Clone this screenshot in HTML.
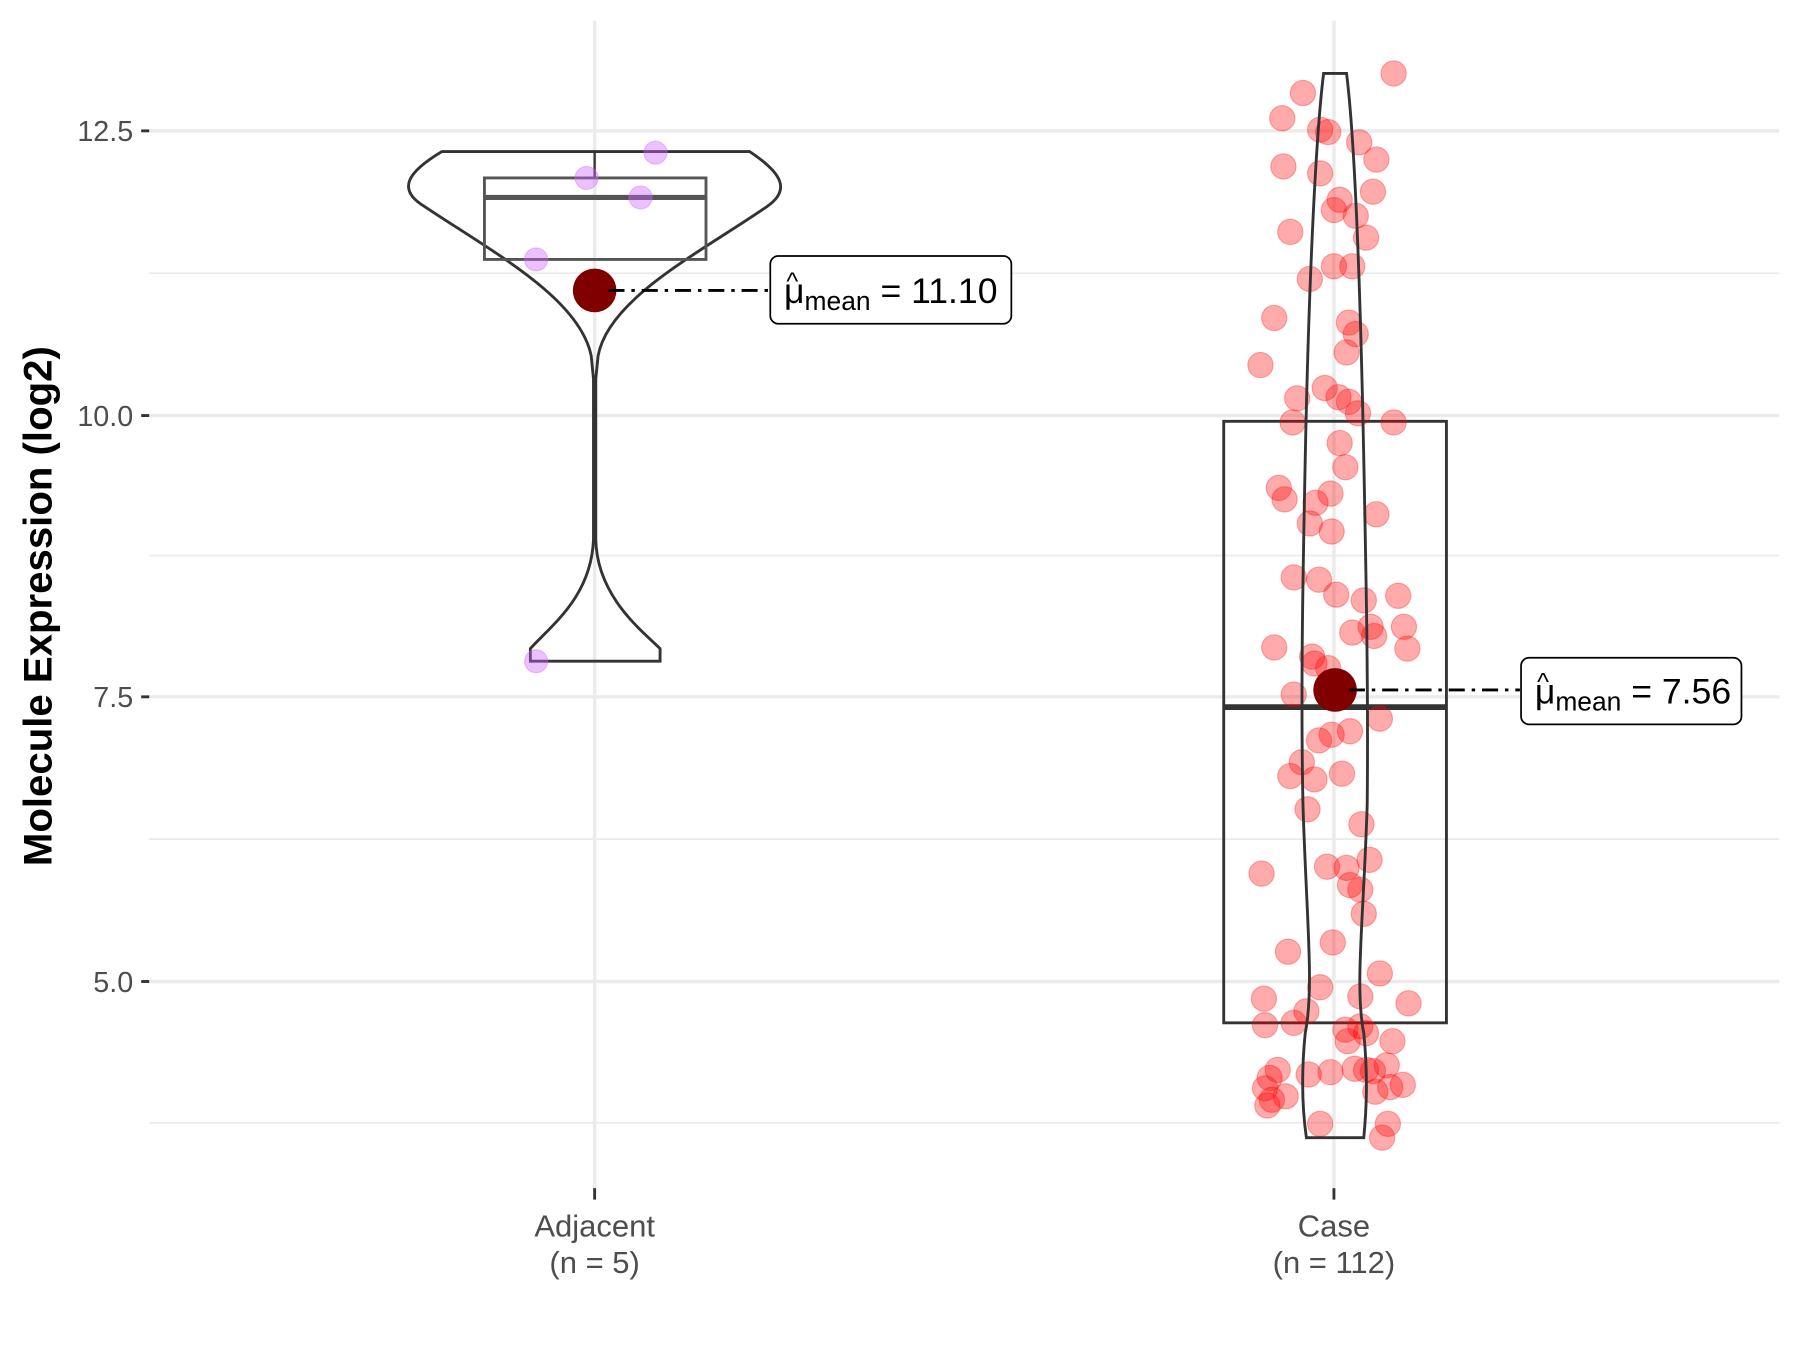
<!DOCTYPE html>
<html><head><meta charset="utf-8"><style>html,body{margin:0;padding:0;background:#fff}svg{display:block}</style></head><body>
<svg width="1800" height="1350" viewBox="0 0 1568 1176" preserveAspectRatio="none" xmlns="http://www.w3.org/2000/svg" font-family="Liberation Sans, sans-serif">
<g stroke="#ebebeb" stroke-width="1.5">
<line x1="130" x2="1550" y1="238" y2="238"/><line x1="130" x2="1550" y1="484" y2="484"/><line x1="130" x2="1550" y1="731" y2="731"/><line x1="130" x2="1550" y1="978" y2="978"/>
</g>
<g stroke="#ebebeb" stroke-width="3">
<line x1="130" x2="1550" y1="114" y2="114"/><line x1="130" x2="1550" y1="362" y2="362"/><line x1="130" x2="1550" y1="607" y2="607"/><line x1="130" x2="1550" y1="855" y2="855"/>
<line x1="518" x2="518" y1="18" y2="1035"/><line x1="1162" x2="1162" y1="18" y2="1035"/>
</g>
<g stroke="#333" stroke-width="2.5">
<line x1="123" x2="130" y1="114" y2="114"/><line x1="123" x2="130" y1="362" y2="362"/><line x1="123" x2="130" y1="607" y2="607"/><line x1="123" x2="130" y1="855" y2="855"/>
<line x1="518" x2="518" y1="1035" y2="1045"/><line x1="1162" x2="1162" y1="1035" y2="1045"/>
</g>
<g font-size="25" fill="#4d4d4d" text-anchor="end">
<text x="116" y="123">12.5</text><text x="116" y="371">10.0</text><text x="116" y="616">7.5</text><text x="116" y="864">5.0</text>
</g>
<g font-size="27" fill="#4d4d4d" text-anchor="middle">
<text x="518" y="1077">Adjacent</text><text x="518" y="1109">(n = 5)</text>
<text x="1162" y="1077">Case</text><text x="1162" y="1109">(n = 112)</text>
</g>
<text transform="translate(45,528) rotate(-90)" font-size="35" font-weight="bold" text-anchor="middle">Molecule Expression (log2)</text>
<path d="M385,132 L653,132 C680,150 690,165 668,180 C610,220 530,260 521,310 L519,330 L519,470 C520,520 560,550 575,565 L575,576 L462,576 L462,565 C480,545 515,520 517,470 L517,330 L515,310 C505,260 430,220 370,180 C345,165 355,150 385,132 Z" fill="none" stroke="#333" stroke-width="2.5"/>
<line x1="518" x2="518" y1="132" y2="155" stroke="#333" stroke-width="2"/>
<rect x="422" y="155" width="193" height="71" fill="none" stroke="#555" stroke-width="2.5"/>
<line x1="422" x2="615" y1="172" y2="172" stroke="#555" stroke-width="4.5"/>
<g fill="#cc66ff" fill-opacity="0.4" stroke="#cc66ff" stroke-opacity="0.4">
<circle cx="571" cy="133" r="10"/><circle cx="511" cy="155" r="10"/><circle cx="558" cy="172" r="10"/><circle cx="467" cy="226" r="10"/><circle cx="467" cy="576" r="10"/>
</g>
<circle cx="518" cy="253" r="19" fill="#800000"/>
<line x1="530" x2="670" y1="253" y2="253" stroke="#000" stroke-width="2.5" stroke-dasharray="14,6,3,6"/>
<rect x="671" y="223" width="210" height="59" rx="7" fill="#fff" stroke="#000" stroke-width="1.5"/>
<text x="683" y="264" font-size="31">μ<tspan font-size="23" dy="6">mean</tspan><tspan dy="-6" font-size="31"> = 11.10</tspan></text>
<text x="685" y="252" font-size="22">^</text>
<rect x="1066" y="367" width="194" height="524" fill="none" stroke="#333" stroke-width="2.5"/>
<line x1="1066" x2="1260" y1="616" y2="616" stroke="#333" stroke-width="5"/>
<g fill="#ff0000" fill-opacity="0.33" stroke="#ff0000" stroke-opacity="0.3">
<circle cx="1214" cy="64" r="11"/><circle cx="1135" cy="81" r="11"/><circle cx="1117" cy="103" r="11"/><circle cx="1150" cy="113" r="11"/><circle cx="1157" cy="115" r="11"/><circle cx="1184" cy="124" r="11"/><circle cx="1199" cy="139" r="11"/><circle cx="1118" cy="145" r="11"/><circle cx="1150" cy="151" r="11"/><circle cx="1196" cy="167" r="11"/><circle cx="1167" cy="174" r="11"/><circle cx="1162" cy="183" r="11"/><circle cx="1181" cy="188" r="11"/><circle cx="1124" cy="202" r="11"/><circle cx="1190" cy="207" r="11"/><circle cx="1162" cy="232" r="11"/><circle cx="1178" cy="232" r="11"/><circle cx="1141" cy="243" r="11"/><circle cx="1110" cy="277" r="11"/><circle cx="1175" cy="281" r="11"/><circle cx="1181" cy="291" r="11"/><circle cx="1173" cy="307" r="11"/><circle cx="1098" cy="318" r="11"/><circle cx="1154" cy="338" r="11"/><circle cx="1130" cy="347" r="11"/><circle cx="1166" cy="346" r="11"/><circle cx="1175" cy="350" r="11"/><circle cx="1183" cy="360" r="11"/><circle cx="1126" cy="368" r="11"/><circle cx="1214" cy="368" r="11"/><circle cx="1167" cy="386" r="11"/><circle cx="1172" cy="407" r="11"/><circle cx="1114" cy="425" r="11"/><circle cx="1119" cy="435" r="11"/><circle cx="1146" cy="438" r="11"/><circle cx="1159" cy="430" r="11"/><circle cx="1199" cy="448" r="11"/><circle cx="1141" cy="456" r="11"/><circle cx="1160" cy="463" r="11"/><circle cx="1127" cy="503" r="11"/><circle cx="1149" cy="505" r="11"/><circle cx="1164" cy="518" r="11"/><circle cx="1188" cy="523" r="11"/><circle cx="1218" cy="519" r="11"/><circle cx="1194" cy="546" r="11"/><circle cx="1223" cy="546" r="11"/><circle cx="1178" cy="551" r="11"/><circle cx="1197" cy="554" r="11"/><circle cx="1226" cy="565" r="11"/><circle cx="1110" cy="564" r="11"/><circle cx="1143" cy="572" r="11"/><circle cx="1145" cy="578" r="11"/><circle cx="1157" cy="582" r="11"/><circle cx="1127" cy="605" r="11"/><circle cx="1202" cy="626" r="11"/><circle cx="1176" cy="637" r="11"/><circle cx="1160" cy="640" r="11"/><circle cx="1149" cy="645" r="11"/><circle cx="1134" cy="664" r="11"/><circle cx="1169" cy="674" r="11"/><circle cx="1124" cy="676" r="11"/><circle cx="1145" cy="679" r="11"/><circle cx="1139" cy="705" r="11"/><circle cx="1186" cy="718" r="11"/><circle cx="1099" cy="761" r="11"/><circle cx="1156" cy="755" r="11"/><circle cx="1173" cy="756" r="11"/><circle cx="1193" cy="749" r="11"/><circle cx="1176" cy="771" r="11"/><circle cx="1185" cy="775" r="11"/><circle cx="1188" cy="796" r="11"/><circle cx="1122" cy="829" r="11"/><circle cx="1161" cy="821" r="11"/><circle cx="1202" cy="848" r="11"/><circle cx="1150" cy="860" r="11"/><circle cx="1185" cy="868" r="11"/><circle cx="1101" cy="870" r="11"/><circle cx="1227" cy="874" r="11"/><circle cx="1138" cy="881" r="11"/><circle cx="1102" cy="893" r="11"/><circle cx="1127" cy="891" r="11"/><circle cx="1172" cy="897" r="11"/><circle cx="1185" cy="894" r="11"/><circle cx="1190" cy="900" r="11"/><circle cx="1174" cy="907" r="11"/><circle cx="1213" cy="907" r="11"/><circle cx="1208" cy="928" r="11"/><circle cx="1113" cy="932" r="11"/><circle cx="1106" cy="939" r="11"/><circle cx="1140" cy="936" r="11"/><circle cx="1159" cy="934" r="11"/><circle cx="1190" cy="932" r="11"/><circle cx="1196" cy="933" r="11"/><circle cx="1180" cy="931" r="11"/><circle cx="1102" cy="948" r="11"/><circle cx="1120" cy="955" r="11"/><circle cx="1198" cy="951" r="11"/><circle cx="1211" cy="947" r="11"/><circle cx="1222" cy="945" r="11"/><circle cx="1104" cy="963" r="11"/><circle cx="1108" cy="958" r="11"/><circle cx="1150" cy="979" r="11"/><circle cx="1209" cy="979" r="11"/><circle cx="1204" cy="991" r="11"/>
</g>
<path d="M1153,64 L1173,64 C1180,120 1185,250 1188,400 C1190,500 1192,600 1191,700 C1188,800 1180,860 1188,900 C1192,940 1190,970 1188,991 L1138,991 C1135,970 1133,940 1137,900 C1145,860 1138,800 1135,700 C1133,600 1135,500 1137,400 C1140,250 1146,120 1153,64 Z" fill="none" stroke="#333" stroke-width="2.5"/>
<circle cx="1163" cy="601" r="19" fill="#800000"/>
<line x1="1175" x2="1324" y1="601" y2="601" stroke="#000" stroke-width="2.5" stroke-dasharray="14,6,3,6"/>
<rect x="1325" y="573" width="192" height="58" rx="7" fill="#fff" stroke="#000" stroke-width="1.5"/>
<text x="1337" y="613" font-size="31">μ<tspan font-size="23" dy="6">mean</tspan><tspan dy="-6" font-size="31"> = 7.56</tspan></text>
<text x="1339" y="601" font-size="22">^</text>
</svg>
</body></html>
